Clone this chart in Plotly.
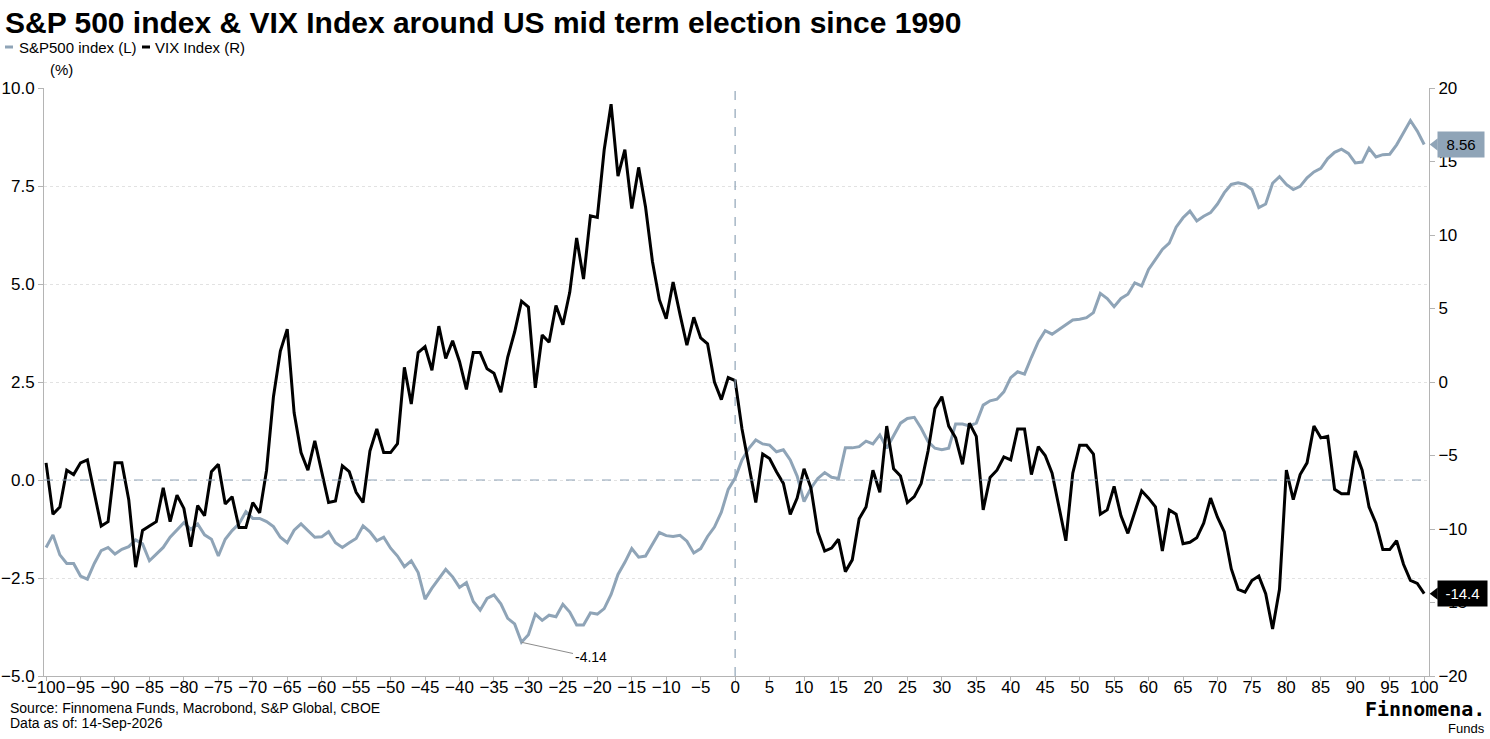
import plotly.graph_objects as go

# Trading days relative to the US mid term election (day 0)
days = list(range(-100, 101))

# Average S&P 500 move (%) around the election, left axis
sp500 = [
    -1.72, -1.40, -1.91, -2.13, -2.13, -2.45, -2.53, -2.13, -1.80, -1.72,
    -1.89, -1.77, -1.70, -1.53, -1.63, -2.06, -1.89, -1.72, -1.46, -1.28,
    -1.09, -1.26, -1.12, -1.40, -1.51, -1.94, -1.51, -1.29, -1.12, -0.81,
    -0.98, -0.98, -1.06, -1.19, -1.46, -1.60,
    -1.28, -1.12, -1.29, -1.46, -1.45, -1.32, -1.60, -1.72, -1.60, -1.49,
    -1.17, -1.32, -1.55, -1.46, -1.74, -1.94, -2.21, -2.06, -2.36, -3.04,
    -2.76, -2.51, -2.28, -2.47, -2.74, -2.62, -3.10, -3.32, -3.02, -2.93,
    -3.16, -3.53, -3.67, -4.14, -3.95, -3.42,
    -3.58, -3.45, -3.49, -3.17, -3.37, -3.70, -3.70, -3.39, -3.42, -3.28,
    -2.92, -2.41, -2.10, -1.75, -1.97, -1.94, -1.65, -1.34, -1.42, -1.44,
    -1.41, -1.56, -1.86, -1.75, -1.44, -1.20, -0.82, -0.24, 0.05, 0.51,
    0.81, 1.02, 0.92, 0.89, 0.72, 0.77, 0.51, 0.10, -0.55, -0.21,
    0.04, 0.19, 0.07, 0.04, 0.82, 0.82, 0.85, 0.99, 0.92, 1.15,
    0.81, 1.15, 1.45, 1.57, 1.60, 1.32, 0.98, 0.81, 0.77, 0.81,
    1.43, 1.43, 1.38, 1.45,
    1.91, 2.02, 2.06, 2.25, 2.61, 2.76, 2.70, 3.13, 3.53, 3.81,
    3.72, 3.84, 3.95, 4.08, 4.10, 4.14, 4.27, 4.76, 4.63, 4.42,
    4.63, 4.74, 5.03, 4.95, 5.37, 5.61, 5.88, 6.04, 6.45, 6.69,
    6.86, 6.61, 6.73, 6.82, 7.04, 7.33,
    7.54, 7.58, 7.54, 7.41, 6.95, 7.04, 7.57, 7.74, 7.54, 7.41,
    7.49, 7.71, 7.86, 7.95, 8.20, 8.36, 8.44, 8.33, 8.09, 8.11,
    8.46, 8.24, 8.30, 8.31, 8.55, 8.86, 9.17, 8.90, 8.56,
]

# Average VIX change around the election, right axis
vix = [
    -5.5, -9.0, -8.5, -6.0, -6.3, -5.5, -5.3, -7.5, -9.8, -9.5,
    -5.5, -5.5, -8.0, -12.6, -10.1, -9.8, -9.5, -7.2, -9.5, -7.7,
    -8.6, -11.2, -8.4, -9.1, -6.1, -5.6, -8.3, -7.8, -9.9, -9.9,
    -8.2, -8.9, -6.0, -1.0, 2.1, 3.6,
    -2.1, -4.8, -6.0, -4.0, -6.0, -8.2, -8.1, -5.7, -6.1, -7.5,
    -8.2, -4.7, -3.2, -4.8, -4.8, -4.2, 1.0, -1.5, 2.0, 2.4,
    0.8, 3.8, 1.6, 2.8, 1.4, -0.5, 2.0, 2.0, 0.9, 0.6,
    -0.7, 1.7, 3.4, 5.5, 5.1, -0.4,
    3.2, 2.7, 5.2, 3.9, 6.1, 9.8, 7.0, 11.3, 11.2, 15.8,
    18.9, 14.0, 15.8, 11.8, 14.6, 11.9, 8.2, 5.6, 4.3, 6.8,
    4.6, 2.5, 4.4, 3.0, 2.6, 0.0, -1.2, 0.3, 0.1, -3.2,
    -5.7, -8.2, -4.9, -5.2, -6.1, -6.9, -9.0, -7.9, -5.9, -7.2,
    -10.2, -11.5, -11.3, -10.7, -12.9, -12.1, -9.3, -8.5, -6.0, -7.5,
    -3.0, -5.9, -6.4, -8.2, -7.8, -6.9, -4.7, -1.8, -1.0, -3.0,
    -3.8, -5.6, -2.8, -3.7,
    -8.7, -6.5, -6.0, -5.1, -5.3, -3.2, -3.2, -6.3, -4.4, -5.0,
    -6.2, -8.4, -10.8, -6.2, -4.3, -4.3, -4.9, -9.0, -8.7, -7.1,
    -9.1, -10.3, -8.8, -7.4, -7.9, -8.5, -11.5, -8.7, -9.0, -11.0,
    -10.9, -10.6, -9.6, -7.9, -9.2, -10.2,
    -12.7, -14.1, -14.3, -13.5, -13.2, -14.4, -16.8, -14.1, -6.0, -8.0,
    -6.3, -5.5, -3.0, -3.8, -3.7, -7.3, -7.6, -7.6, -4.7, -6.0,
    -8.5, -9.6, -11.4, -11.4, -10.8, -12.4, -13.5, -13.7, -14.4,
]

GREY = "#8fa4b7"
AXIS = "#b4b4b4"
FONT = "Liberation Sans, Arial, sans-serif"

W, H = 1490, 739
L, R, T, B = 44, 61, 88, 63
PW, PH = W - L - R, H - T - B


def px(p):
    # pixel column -> paper x
    return (p - L) / PW


def py(q):
    # pixel row -> paper y
    return (H - B - q) / PH


fig = go.Figure()
fig.add_trace(go.Scatter(
    x=days, y=sp500, name="S&P500 index (L)", mode="lines",
    line=dict(color=GREY, width=3), yaxis="y",
))
fig.add_trace(go.Scatter(
    x=days, y=vix, name="VIX Index (R)", mode="lines",
    line=dict(color="black", width=3), yaxis="y2",
))

# min of the S&P series, labelled with a leader line
i_min = sp500.index(min(sp500))

annotations = [
    dict(x=px(17), y=py(47), xref="paper", yref="paper", xanchor="left",
         yanchor="middle", text="S&P500 index (L)", showarrow=False,
         font=dict(size=15, color="black")),
    dict(x=px(153), y=py(47), xref="paper", yref="paper", xanchor="left",
         yanchor="middle", text="VIX Index (R)", showarrow=False,
         font=dict(size=15, color="black")),
    dict(x=px(48), y=py(69), xref="paper", yref="paper", xanchor="left",
         yanchor="middle", text="(%)", showarrow=False,
         font=dict(size=15, color="black")),
    dict(x=px(8), y=py(708), xref="paper", yref="paper", xanchor="left",
         yanchor="middle", text="Source: Finnomena Funds, Macrobond, S&P Global, CBOE",
         showarrow=False, font=dict(size=14, color="black")),
    dict(x=px(8), y=py(723), xref="paper", yref="paper", xanchor="left",
         yanchor="middle", text="Data as of: 14-Sep-2026",
         showarrow=False, font=dict(size=14, color="black")),
    dict(x=px(1487), y=py(709), xref="paper", yref="paper", xanchor="right",
         yanchor="middle", text="<b>Finnomena.</b>", showarrow=False,
         font=dict(family="DejaVu Sans Mono", size=20, color="black")),
    dict(x=px(1487), y=py(728), xref="paper", yref="paper", xanchor="right",
         yanchor="middle", text="Funds", showarrow=False,
         font=dict(size=13, color="black")),
    dict(x=days[i_min], y=sp500[i_min], xref="x", yref="y",
         text=f"{sp500[i_min]:.2f}", showarrow=True, arrowhead=0,
         arrowwidth=1, arrowcolor="#8c8c8c", ax=69, ay=15, standoff=0,
         font=dict(size=14, color="black")),
    # last value boxes on the right
    dict(x=1, y=sp500[-1], xref="paper", yref="y", xanchor="left",
         yanchor="middle", xshift=8, text=f"{sp500[-1]:.2f}", showarrow=False,
         bgcolor=GREY, borderpad=4, width=38,
         font=dict(size=15, color="black")),
    dict(x=1, y=vix[-1], xref="paper", yref="y2", xanchor="left",
         yanchor="middle", xshift=8, text=f"{vix[-1]:.1f}", showarrow=False,
         bgcolor="black", borderpad=4, width=41,
         font=dict(size=15, color="white")),
]

tri_w = 8 / PW
shapes = [
    # zero reference lines
    dict(type="line", xref="paper", yref="y", x0=0, x1=1, y0=0, y1=0,
         line=dict(color=GREY, width=1.2, dash="dash")),
    dict(type="line", xref="x", yref="paper", x0=0, x1=0, y0=0, y1=1,
         line=dict(color=GREY, width=1.2, dash="dash")),
    # legend swatches
    dict(type="line", xref="paper", yref="paper", x0=px(5), x1=px(13),
         y0=py(47), y1=py(47), line=dict(color=GREY, width=3)),
    dict(type="line", xref="paper", yref="paper", x0=px(142), x1=px(150),
         y0=py(47), y1=py(47), line=dict(color="black", width=3)),
    # pointers on the last value boxes
    dict(type="path", xref="paper", yref="y",
         path=f"M 1.0005 {sp500[-1]} L {1 + tri_w + 0.0005} {sp500[-1] + 0.16} "
              f"L {1 + tri_w + 0.0005} {sp500[-1] - 0.16} Z",
         fillcolor=GREY, line=dict(width=0)),
    dict(type="path", xref="paper", yref="y2",
         path=f"M 1.0005 {vix[-1]} L {1 + tri_w + 0.0005} {vix[-1] + 0.42} "
              f"L {1 + tri_w + 0.0005} {vix[-1] - 0.42} Z",
         fillcolor="black", line=dict(width=0)),
]

axis_common = dict(
    zeroline=False, showline=True, linecolor=AXIS, linewidth=1,
    ticks="outside", tickcolor=AXIS, automargin=False,
    tickfont=dict(size=17, color="black"),
)

fig.update_layout(
    width=W, height=H,
    margin=dict(l=L, r=R, t=T, b=B, pad=0, autoexpand=False),
    paper_bgcolor="white", plot_bgcolor="white",
    font=dict(family=FONT, size=17, color="black"),
    showlegend=False,
    title=dict(
        text="<b>S&P 500 index & VIX Index around US mid term election since 1990</b>",
        x=5 / W, xanchor="left", y=1 - 22 / H, yanchor="middle",
        font=dict(size=30, color="black"),
    ),
    xaxis=dict(
        range=[-100.3, 100.7], tick0=-100, dtick=5, showgrid=False,
        tickangle=0, ticklen=4, ticklabelstandoff=-8, **axis_common,
    ),
    yaxis=dict(
        range=[-5, 10], tick0=-5, dtick=2.5, tickformat=".1f", ticklen=5,
        showgrid=True, gridcolor="#e2e2e2", griddash="dot", gridwidth=1,
        **axis_common,
    ),
    yaxis2=dict(
        range=[-20, 20], tick0=-20, dtick=5, overlaying="y", side="right",
        ticklen=5, showgrid=False, **axis_common,
    ),
    annotations=annotations,
    shapes=shapes,
)

fig.write_html(
    "out.html",
    config={"displayModeBar": False},
    post_script="document.body.style.margin='0';",
)
